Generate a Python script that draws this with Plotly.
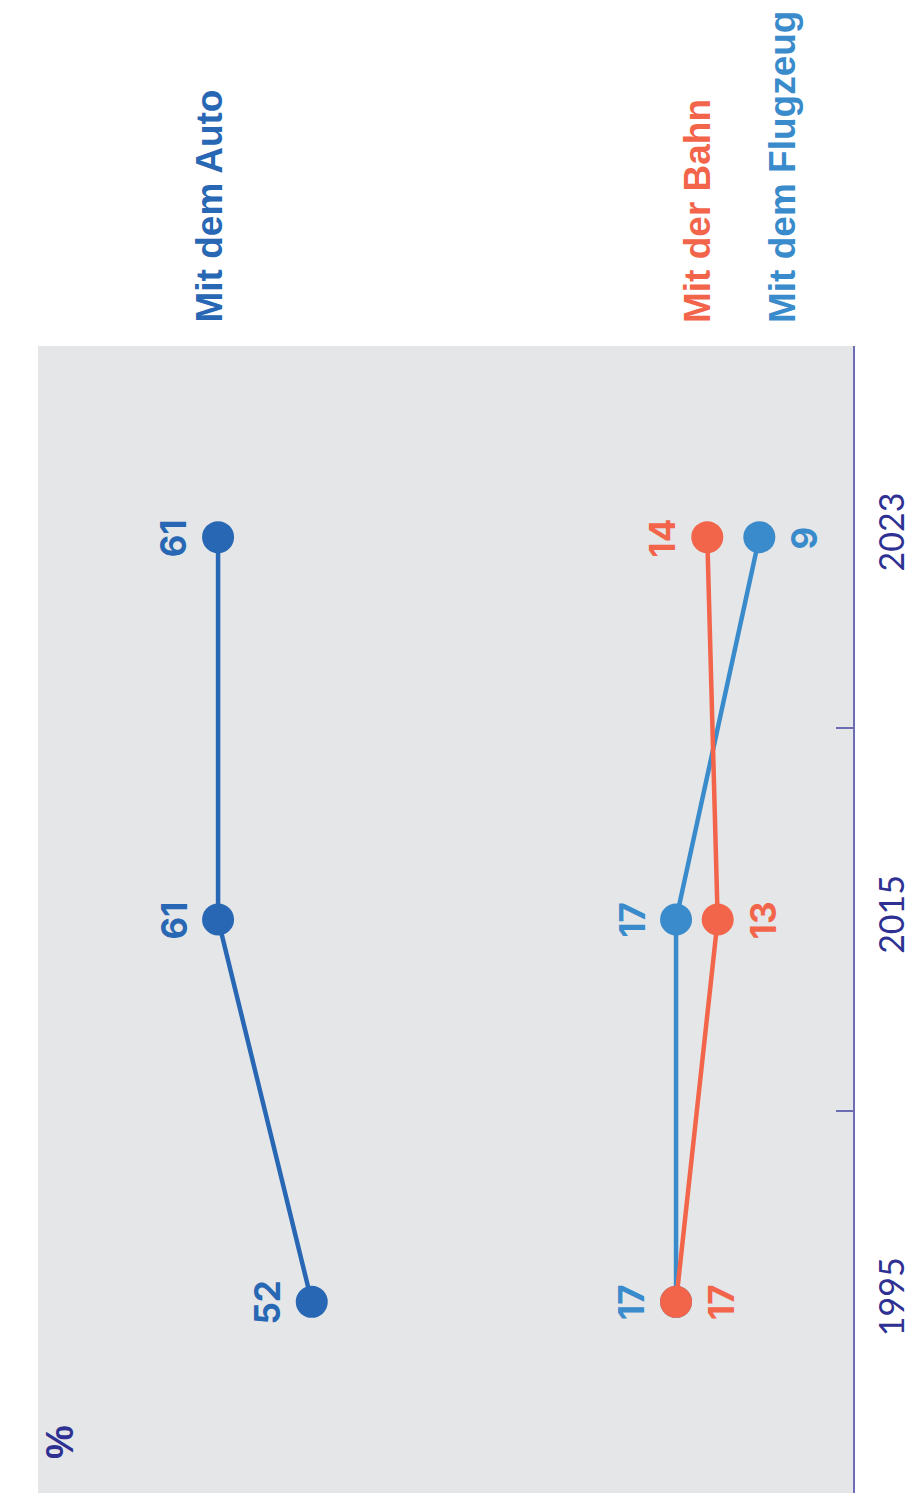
import plotly.graph_objects as go

# Share of trips by mode of transport (%), surveyed years
years = ["1995", "2015", "2023"]
auto = [52, 61, 61]
bahn = [17, 13, 14]
flugzeug = [17, 17, 9]

series_names = ["Mit dem Auto", "Mit der Bahn", "Mit dem Flugzeug"]

C_AUTO = "#2767b3"
C_BAHN = "#f2654a"
C_FLUG = "#3a8bcb"
C_NAVY = "#2e3192"
C_AXIS = "#6d6db5"
C_BG = "#e5e6e8"

# label side for each point: -1 = left of marker, +1 = right of marker
auto_side = [-1, -1, -1]
bahn_side = [1, 1, -1]
flug_side = [-1, -1, 1]

fig = go.Figure()

def add_series(values, color, name):
    fig.add_trace(go.Scatter(
        x=values, y=years, mode="lines+markers", name=name,
        line=dict(color=color, width=4.5),
        marker=dict(color=color, size=32),
        showlegend=False,
    ))

add_series(flugzeug, C_FLUG, series_names[2])
add_series(bahn, C_BAHN, series_names[1])
add_series(auto, C_AUTO, series_names[0])

annotations = []

def add_labels(values, sides, color):
    # category axis: annotations address categories by their index
    for i, (v, s) in enumerate(zip(values, sides)):
        annotations.append(dict(
            x=v, y=i, xref="x", yref="y", text=str(v), showarrow=False,
            textangle=-90, xshift=45 * s, yshift=-1,
            font=dict(family="Inter", size=35, color=color, weight=700),
        ))

add_labels(auto, auto_side, C_AUTO)
add_labels(bahn, bahn_side, C_BAHN)
add_labels(flugzeug, flug_side, C_FLUG)

# Series names above the plot area, rotated
plot_left, plot_right, plot_top, plot_bottom = 38, 853, 346, 1493
pw = plot_right - plot_left
ph = plot_bottom - plot_top
name_pos = [(209, C_AUTO), (697, C_BAHN), (782, C_FLUG)]
for name, (px, col) in zip(series_names, name_pos):
    annotations.append(dict(
        x=(px - plot_left) / pw, y=1 + (plot_top - 325) / ph,
        xref="paper", yref="paper", text=name, showarrow=False,
        textangle=-90, xanchor="center", yanchor="bottom",
        font=dict(family="Liberation Sans", size=37, color=col, weight="bold"),
    ))

# Unit label
annotations.append(dict(
    x=(60 - plot_left) / pw, y=(plot_bottom - 1442) / ph,
    xref="paper", yref="paper", text="%", showarrow=False,
    textangle=-90, xanchor="center", yanchor="middle",
    font=dict(family="Liberation Sans", size=38, color=C_NAVY, weight="bold"),
))

fig.update_layout(
    width=911, height=1501,
    margin=dict(l=plot_left, r=911 - plot_right, t=plot_top, b=1501 - plot_bottom,
                pad=0, autoexpand=False),
    paper_bgcolor="white",
    plot_bgcolor=C_BG,
    annotations=annotations,
    xaxis=dict(
        range=[78.3, 0], showgrid=False, zeroline=False, automargin=False,
        showticklabels=False, ticks="", showline=False, fixedrange=True,
    ),
    yaxis=dict(
        type="category", categoryorder="array", categoryarray=years,
        range=[-0.5, 2.5], side="right", showgrid=False, zeroline=False,
        automargin=False,
        showline=True, linecolor=C_AXIS, linewidth=2,
        ticks="inside", tickson="boundaries", ticklen=17, tickwidth=1.5, tickcolor=C_AXIS,
        tickangle=-90, ticklabelstandoff=8,
        tickfont=dict(family="Lato", size=34, color=C_NAVY),
    ),
)

fig.write_html("out.html")
